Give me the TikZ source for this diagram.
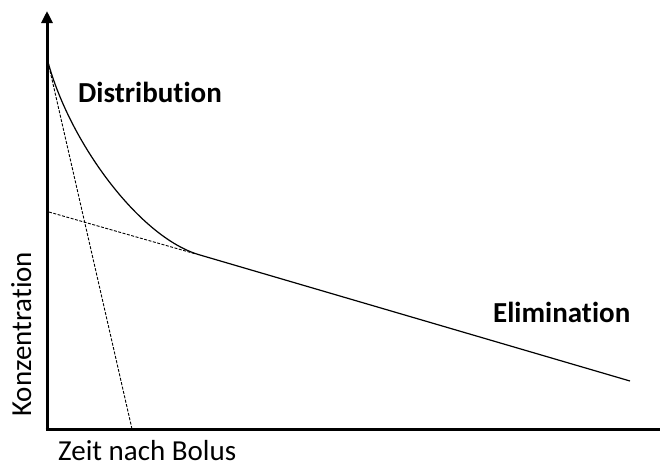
\documentclass[tikz,border=0pt]{standalone}
\usepackage{fontspec}
\setmainfont{Carlito}[Ligatures={NoCommon,NoContextual}]
\usetikzlibrary{arrows.meta}
\begin{document}
\begin{tikzpicture}[x=1pt,y=-1pt,
  axis/.style={line width=3pt},
  curve/.style={line width=1.2pt},
  helper/.style={line width=0.9pt,dash pattern=on 3pt off 1.5pt},
  lbl/.style={inner sep=0pt,text depth=0pt,font=\fontsize{29}{32}\selectfont}]
\useasboundingbox (0,0) rectangle (660,466);
% coordinates
\coordinate (origin) at (47,429);
\coordinate (ytop) at (47,11);
\coordinate (xend) at (660,429);
\coordinate (c0) at (48,62);
\coordinate (t1) at (49,212);
\coordinate (tp) at (200,255);
\coordinate (tdash) at (196,254);
\coordinate (lend) at (630,381);
\coordinate (s1) at (132,429);
% axes
\draw[axis,-{Triangle[width=11pt,length=12pt]}] (origin) -- (ytop);
\draw[axis] ([xshift=-1.5pt]origin) -- (xend);
% dashed helper lines
\draw[helper] (c0) -- (s1);
\draw[helper] (t1) -- (tdash);
% concentration curve
\draw[curve] (c0) .. controls (70,143) and (140,238) .. (tp) -- (lend);
% labels
\node[lbl,font=\bfseries\fontsize{29}{32}\selectfont,anchor=base west] (dist) at (78,102) {Distribution};
\node[lbl,font=\bfseries\fontsize{29}{32}\selectfont,anchor=base west] (elim) at (493,322) {Elimination};
\node[lbl,anchor=base west] (xlab) at (58,460) {Zeit nach Bolus};
\node[lbl,anchor=base west,rotate=90] (ylab) at (31,417) {Konzentration};
\end{tikzpicture}
\end{document}
